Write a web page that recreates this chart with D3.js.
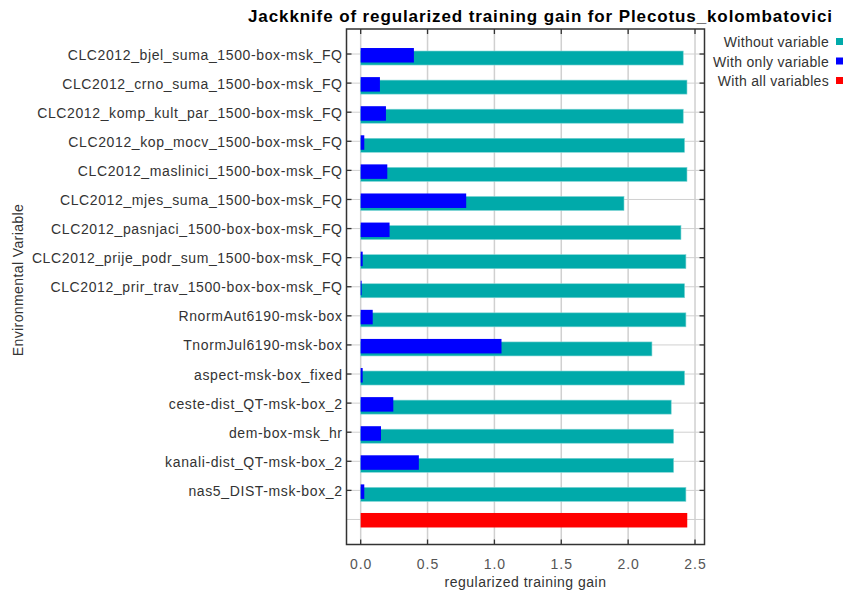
<!DOCTYPE html>
<html>
<head>
<meta charset="utf-8">
<script src="https://cdn.jsdelivr.net/npm/d3@7"></script>
<style>
  body { margin: 0; background: #fff; }
  text { font-family: "Liberation Sans", Arial, sans-serif; }
</style>
</head>
<body>
<div id="chart"></div>
<script>
const colorpel = { without: '#00aaaa', only: '#0000ff', all: '#ff0000', grid: '#d0d0d0', frame: '#333' }

const variables = [
  'CLC2012_bjel_suma_1500-box-msk_FQ',
  'CLC2012_crno_suma_1500-box-msk_FQ',
  'CLC2012_komp_kult_par_1500-box-msk_FQ',
  'CLC2012_kop_mocv_1500-box-msk_FQ',
  'CLC2012_maslinici_1500-box-msk_FQ',
  'CLC2012_mjes_suma_1500-box-msk_FQ',
  'CLC2012_pasnjaci_1500-box-box-msk_FQ',
  'CLC2012_prije_podr_sum_1500-box-msk_FQ',
  'CLC2012_prir_trav_1500-box-box-msk_FQ',
  'RnormAut6190-msk-box',
  'TnormJul6190-msk-box',
  'aspect-msk-box_fixed',
  'ceste-dist_QT-msk-box_2',
  'dem-box-msk_hr',
  'kanali-dist_QT-msk-box_2',
  'nas5_DIST-msk-box_2'
]
const withoutGain = [2.412, 2.44, 2.412, 2.422, 2.44, 1.969, 2.395, 2.432, 2.422, 2.432, 2.178, 2.422, 2.322, 2.34, 2.34, 2.432]
const onlyGain = [0.398, 0.144, 0.189, 0.027, 0.199, 0.789, 0.216, 0.015, 0.007, 0.09, 1.053, 0.015, 0.244, 0.152, 0.435, 0.027]
const allGain = 2.442
const xTicks = [0, 0.5, 1, 1.5, 2, 2.5]
const legendItems = [
  { label: 'Without variable', key: 'without' },
  { label: 'With only variable', key: 'only' },
  { label: 'With all variables', key: 'all' }
]

let width = 847, height = 593;
let pLeft = 346.5, pRight = 704.5, pTop = 29, pBottom = 544.5;
const ls = 0.62  // java fonts render a bit wider

const rows = variables.concat(['__all__'])
let x = d3.scaleLinear().domain([-0.106, 2.571]).range([pLeft, pRight]);
let y = d3.scalePoint().domain(rows).range([pTop, pBottom]).padding(0.86);

let svg = d3.select('#chart').append('svg')
  .attr('width', width).attr('height', height);

// grid
let g_grid = svg.append('g')
g_grid.selectAll('.vg').data(xTicks).enter().append('line')
  .attr('x1', d => x(d)).attr('x2', d => x(d))
  .attr('y1', pTop).attr('y2', pBottom)
  .attr('stroke', colorpel.grid).attr('stroke-width', 1.5)
g_grid.selectAll('.hg').data(rows).enter().append('line')
  .attr('x1', pLeft).attr('x2', pRight)
  .attr('y1', d => y(d)).attr('y2', d => y(d))
  .attr('stroke', colorpel.grid).attr('stroke-width', 1)

// bars
let data = variables.map((v, i) => ({ name: v, without: withoutGain[i], only: onlyGain[i] }))
let g_bar = svg.append('g')
g_bar.selectAll('.wo').data(data).enter().append('rect')
  .attr('x', x(0)).attr('y', d => y(d.name) - 3)
  .attr('width', d => x(d.without) - x(0)).attr('height', 14)
  .attr('fill', colorpel.without)
  .attr('stroke', '#7fd4d4').attr('stroke-width', 0.6)
g_bar.selectAll('.on').data(data).enter().append('rect')
  .attr('x', x(0)).attr('y', d => y(d.name) - 6)
  .attr('width', d => x(d.only) - x(0)).attr('height', 14.5)
  .attr('fill', colorpel.only)
g_bar.append('rect')
  .attr('x', x(0)).attr('y', y('__all__') - 6.5)
  .attr('width', x(allGain) - x(0)).attr('height', 14.5)
  .attr('fill', colorpel.all)

// frame + ticks
svg.append('rect')
  .attr('x', pLeft).attr('y', pTop)
  .attr('width', pRight - pLeft).attr('height', pBottom - pTop)
  .attr('fill', 'none').attr('stroke', colorpel.frame).attr('stroke-width', 1.5)

let g_tick = svg.append('g').attr('stroke', colorpel.frame).attr('stroke-width', 1.3)
xTicks.forEach(t => {
  g_tick.append('line').attr('x1', x(t)).attr('x2', x(t)).attr('y1', pBottom).attr('y2', pBottom - 5)
  g_tick.append('line').attr('x1', x(t)).attr('x2', x(t)).attr('y1', pTop).attr('y2', pTop + 5)
})
variables.forEach(v => {
  g_tick.append('line').attr('x1', pLeft).attr('x2', pLeft + 5).attr('y1', y(v)).attr('y2', y(v))
  g_tick.append('line').attr('x1', pRight).attr('x2', pRight - 5).attr('y1', y(v)).attr('y2', y(v))
})

// labels
svg.append('g').selectAll('text').data(variables).enter().append('text')
  .attr('x', 342 + ls).attr('y', d => y(d) + 5.5)
  .attr('text-anchor', 'end').attr('font-size', 14).attr('fill', '#333')
  .style('letter-spacing', ls + 'px')
  .text(d => d)

svg.append('g').selectAll('text').data(xTicks).enter().append('text')
  .attr('x', d => x(d) + 0.5).attr('y', 569)
  .attr('text-anchor', 'middle').attr('font-size', 14).attr('fill', '#555')
  .style('letter-spacing', '1px')
  .text(d => d3.format('.1f')(d))

svg.append('text')
  .attr('x', (pLeft + pRight) / 2).attr('y', 587)
  .attr('text-anchor', 'middle').attr('font-size', 14).attr('fill', '#333')
  .style('letter-spacing', '0.5px')
  .text('regularized training gain')

svg.append('text')
  .attr('transform', `translate(23, 280) rotate(-90)`)
  .attr('text-anchor', 'middle').attr('font-size', 14).attr('fill', '#333')
  .style('letter-spacing', '0.4px')
  .text('Environmental Variable')

svg.append('text')
  .attr('x', 248).attr('y', 21.5)
  .attr('font-size', 17).attr('font-weight', 'bold').attr('fill', '#000')
  .attr('textLength', 584).attr('lengthAdjust', 'spacing')
  .text('Jackknife of regularized training gain for Plecotus_kolombatovici')

// legend
let lg = svg.append('g')
legendItems.forEach((d, i) => {
  lg.append('text')
    .attr('x', 829).attr('y', 47 + i * 19.5)
    .attr('text-anchor', 'end').attr('font-size', 14).attr('fill', '#333')
    .style('letter-spacing', '0.3px')
    .text(d.label)
  lg.append('rect')
    .attr('x', 836).attr('y', 38 + i * 19.5)
    .attr('width', 7).attr('height', 7)
    .attr('fill', colorpel[d.key])
})
</script>
</body>
</html>
